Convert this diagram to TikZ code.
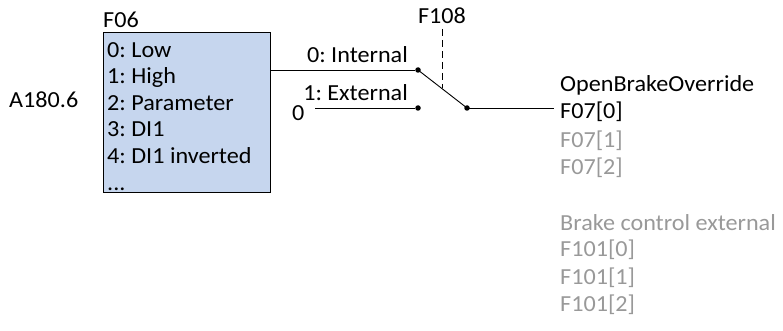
\documentclass[tikz,border=0pt]{standalone}
\usepackage{fontspec}
\setmainfont[FakeStretch=1.05]{Carlito}
\usetikzlibrary{positioning}
\definecolor{BoxBlue}{rgb}{0.776, 0.839, 0.933}
\definecolor{MuteGray}{rgb}{0.6, 0.6, 0.6}
\begin{document}
\begin{tikzpicture}[x=1pt, y=-1pt,
    every node/.style={font=\fontsize{23}{26.6}\selectfont\frenchspacing, inner sep=0pt},
    dot/.style={circle, fill=black, minimum size=5.5pt},
    wire/.style={line width=0.9pt},
    muted/.style={text=MuteGray, anchor=west}]
\useasboundingbox (0,0) rectangle (783,331);

% selector
\node[draw, line width=1.2pt, fill=BoxBlue, anchor=north west,
      minimum width=167pt, minimum height=160pt] (sel) at (103,32) {};
\node[anchor=north west, align=left] (items) at ([shift={(4,10)}]sel.north west)
    {0: Low\\1: High\\2: Parameter\\3: DI1\\4: DI1 inverted\\...};
\node[anchor=west] (selname) at (103,20) {F06};
\node[anchor=west] (param) at (9,100) {A180.6};

% switch
\node[dot] (in0) at (418,70) {};
\node[dot] (in1) at (418,108) {};
\node[dot] (piv) at (467,108) {};
\node[anchor=west] (zero) at (292,113) {0};
\coordinate (zeroend) at (315,108);
\draw[wire] (sel.east |- in0) -- (in0);
\draw[wire] (zeroend) -- (in1);
\draw[wire] (in0.center) -- (piv.center);
\node[anchor=east] (lblint) at (408,55) {0: Internal};
\node[anchor=east] (lblext) at (408,93) {1: External};
\node (ctrl) at (442,16) {F108};
\coordinate (blade) at (442,88);
\draw[wire, dashed, dash pattern=on 7pt off 4pt] (442,29) -- (blade);

% outputs
\node[anchor=west] (ovr) at (560,85) {OpenBrakeOverride};
\node[anchor=west] (out0) at (560,112) {F07[0]};
\node[muted] (out1) at (560,141) {F07[1]};
\node[muted] (out2) at (560,168) {F07[2]};
\node[muted] (ext) at (560,223) {Brake control external};
\node[muted] (ext0) at (560,250) {F101[0]};
\node[muted] (ext1) at (560,278) {F101[1]};
\node[muted] (ext2) at (560,305) {F101[2]};
\draw[wire] (piv.center) -- ([xshift=-6pt]piv.center -| out0.west);

\end{tikzpicture}
\end{document}
